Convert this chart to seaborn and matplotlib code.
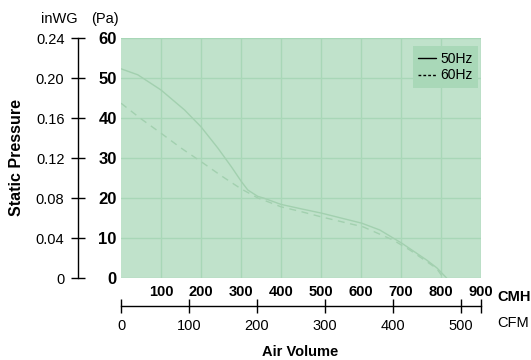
import pandas as pd
import matplotlib
matplotlib.use("Agg")
import matplotlib.pyplot as plt
import seaborn as sns
from matplotlib.lines import Line2D

# fan curve (CMH, Pa)
flow_50 = [0, 42, 100, 159, 200, 242, 276, 301, 317, 342, 356, 400, 450, 502, 550, 602, 647, 702, 764, 790, 814]
pres_50 = [52.3, 50.8, 47.0, 42.0, 37.8, 32.5, 27.8, 24.1, 22.0, 20.4, 20.0, 18.4, 17.3, 16.2, 15.0, 13.7, 12.0, 8.7, 4.5, 2.5, 0.0]
flow_60 = [0, 50, 100, 150, 200, 250, 300, 342, 356, 400, 450, 500, 550, 605, 680, 722, 789, 806]
pres_60 = [43.7, 39.8, 36.2, 32.5, 29.1, 25.6, 22.3, 20.0, 19.5, 17.8, 16.6, 15.3, 14.1, 12.8, 9.5, 7.0, 2.4, 0.0]

cmh_ticks = [100, 200, 300, 400, 500, 600, 700, 800, 900]
pa_ticks = [0, 10, 20, 30, 40, 50, 60]
inwg_ticks = [0, 0.04, 0.08, 0.12, 0.16, 0.20, 0.24]
inwg_labels = ["0", "0.04", "0.08", "0.12", "0.16", "0.20", "0.24"]
cfm_ticks = [0, 100, 200, 300, 400, 500]
cmh_per_cfm = 1.699

df = pd.concat([
    pd.DataFrame({"flow": flow_50, "pressure": pres_50, "freq": "50Hz"}),
    pd.DataFrame({"flow": flow_60, "pressure": pres_60, "freq": "60Hz"}),
])

sns.set_style("white")
plt.rcParams["font.family"] = ["Liberation Sans", "DejaVu Sans"]
plt.rcParams["text.color"] = "black"
plt.rcParams["xtick.color"] = "black"
plt.rcParams["ytick.color"] = "black"
plt.rcParams["xtick.labelcolor"] = "black"
plt.rcParams["ytick.labelcolor"] = "black"

W, H = 531, 360
fig = plt.figure(figsize=(W / 100, H / 100), dpi=100)

def box(x0, y0, x1, y1):
    return [x0 / W, 1 - y1 / H, (x1 - x0) / W, (y1 - y0) / H]

bg = "#c0e2cb"
grid_c = "#a8d7b7"
curve_c = "#a2d0af"

ax = fig.add_axes(box(121, 38, 481, 278))
ax.set_facecolor(bg)
sns.lineplot(data=df, x="flow", y="pressure", style="freq", ax=ax,
             color=curve_c, linewidth=1.0, sort=False, legend=False,
             dashes={"50Hz": "", "60Hz": (5, 4)})
ax.set_xlim(0, 900)
ax.set_ylim(0, 60)
ax.set_xticks(cmh_ticks)
ax.set_yticks(pa_ticks)
ax.grid(True, color=grid_c, linewidth=1.0)
for s in ax.spines.values():
    s.set_visible(False)
ax.tick_params(length=0)
ax.tick_params(axis="y", pad=3, labelsize=12)
ax.tick_params(axis="x", pad=5, labelsize=10.5)
for t in ax.get_yticklabels() + ax.get_xticklabels():
    t.set_fontweight("bold")
ax.set_xlabel("")
ax.set_ylabel("")

handles = [Line2D([], [], color="black", lw=1, ls="-"),
           Line2D([], [], color="black", lw=1, ls=(0, (2, 1.5)))]
leg = ax.legend(handles, ["50Hz", "60Hz"], loc="upper right", frameon=True,
                fontsize=10, handlelength=1.3, handletextpad=0.3,
                borderpad=0.4, labelspacing=0.2, fancybox=False,
                bbox_to_anchor=(1.012, 0.995))
leg.get_frame().set_facecolor("#a9d8b8")
leg.get_frame().set_edgecolor("none")
leg.get_frame().set_alpha(1)

# inWG scale
ax2 = fig.add_axes(box(78, 38, 78.01, 278))
ax2.set_ylim(0, 0.24)
ax2.set_yticks(inwg_ticks)
ax2.set_yticklabels(inwg_labels)
ax2.set_xticks([])
for k in ["top", "right", "bottom"]:
    ax2.spines[k].set_visible(False)
ax2.spines["left"].set_color("black")
ax2.spines["left"].set_linewidth(1)
ax2.tick_params(axis="y", direction="inout", length=9.5, width=1,
                color="black", pad=5, labelsize=10.5, left=True)
ax2.patch.set_visible(False)

# CFM scale
ax3 = fig.add_axes(box(121, 306, 481, 306.01))
ax3.set_xlim(0, 900 / cmh_per_cfm)
ax3.set_xticks(cfm_ticks + [900 / cmh_per_cfm])
ax3.set_xticklabels([str(v) for v in cfm_ticks] + [""])
ax3.set_yticks([])
for k in ["top", "right", "left"]:
    ax3.spines[k].set_visible(False)
ax3.spines["bottom"].set_color("black")
ax3.spines["bottom"].set_linewidth(1)
ax3.tick_params(axis="x", direction="inout", length=10, width=1,
                color="black", pad=4, labelsize=10.5, bottom=True)
ax3.patch.set_visible(False)

fig.text(497 / W, 1 - 297 / H, "CMH", ha="left", va="center",
         fontsize=10.5, fontweight="bold")
fig.text(497 / W, 1 - 323 / H, "CFM", ha="left", va="center", fontsize=10.5)
fig.text(59 / W, 1 - 19 / H, "inWG", ha="center", va="center", fontsize=10.5)
fig.text(105 / W, 1 - 19 / H, "(Pa)", ha="center", va="center", fontsize=10.5)
fig.text(17 / W, 1 - 158 / H, "Static Pressure", ha="center", va="center",
         rotation=90, fontsize=11.5, fontweight="bold")
fig.text(300 / W, 1 - 352 / H, "Air Volume", ha="center", va="center",
         fontsize=10.5, fontweight="bold")

fig.savefig("out.png", dpi=100)
